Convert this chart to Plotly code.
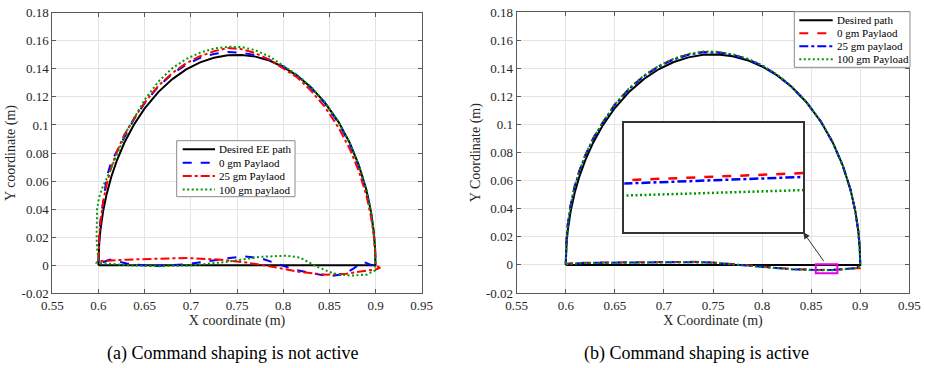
import plotly.graph_objects as go

W, H = 925, 368
FONT = "Liberation Serif"

# ---------------- tick values / labels ----------------
x_ticks = [0.55, 0.6, 0.65, 0.7, 0.75, 0.8, 0.85, 0.9, 0.95]
x_tick_text = ["0.55", "0.6", "0.65", "0.7", "0.75", "0.8", "0.85", "0.9", "0.95"]
y_ticks = [-0.02, 0, 0.02, 0.04, 0.06, 0.08, 0.1, 0.12, 0.14, 0.16, 0.18]
y_tick_text = ["-0.02", "0", "0.02", "0.04", "0.06", "0.08", "0.1", "0.12", "0.14", "0.16", "0.18"]

# ---------------- desired path (both panels) ----------------
desired_x = [0.6, 0.6003, 0.6008, 0.602, 0.605, 0.609, 0.614, 0.62, 0.628, 0.638, 0.65, 0.665,
             0.68, 0.695, 0.71, 0.725, 0.74, 0.755, 0.77, 0.785, 0.8, 0.815, 0.83, 0.845, 0.86,
             0.872, 0.882, 0.89, 0.895, 0.898, 0.8995, 0.9, 0.6]
desired_y = [0, 0.0095, 0.0155, 0.0244, 0.0384, 0.0512, 0.0633, 0.0748, 0.0873, 0.0998, 0.1118,
             0.1236, 0.1327, 0.1396, 0.1446, 0.1479, 0.1497, 0.1499, 0.1487, 0.1459, 0.1414,
             0.1352, 0.1269, 0.1161, 0.1020, 0.0873, 0.0712, 0.0539, 0.0384, 0.0244, 0.0122, 0, 0]

# ---------------- panel (a): command shaping not active ----------------
a_blue_x = [0.6, 0.6003, 0.6008, 0.602, 0.605, 0.609, 0.614, 0.62, 0.628, 0.638, 0.65, 0.665,
            0.68, 0.695, 0.71, 0.725, 0.74, 0.755, 0.77, 0.785, 0.8, 0.815, 0.83, 0.845, 0.86,
            0.872, 0.882, 0.89, 0.895, 0.898, 0.8995, 0.9,
            0.896, 0.8868, 0.876, 0.8652, 0.8508, 0.8327, 0.811, 0.793, 0.775, 0.7587, 0.7425,
            0.7135, 0.692, 0.6594, 0.6306, 0.6125, 0.6]
a_blue_y = [0.002, 0.011, 0.02, 0.031, 0.046, 0.063, 0.074, 0.081, 0.091, 0.1035, 0.1155, 0.1275,
            0.1365, 0.143, 0.1478, 0.1506, 0.152, 0.1515, 0.1497, 0.1465, 0.1418, 0.1352, 0.1265,
            0.1155, 0.1012, 0.0865, 0.0705, 0.0532, 0.038, 0.0242, 0.012, 0.001,
            0.0, 0.0025, -0.0024, -0.0065, -0.0078, -0.006, -0.0029, 0.0012, 0.0052, 0.0062,
            0.0052, 0.0024, 0.0005, -0.0007, 0.0012, 0.004, 0.001]

a_red_x = [0.6, 0.6003, 0.6008, 0.602, 0.605, 0.609, 0.614, 0.62, 0.628, 0.638, 0.65, 0.665,
           0.68, 0.695, 0.71, 0.725, 0.74, 0.755, 0.77, 0.785, 0.8, 0.815, 0.83, 0.845, 0.86,
           0.872, 0.882, 0.89, 0.895, 0.898, 0.8995, 0.9,
           0.905, 0.9, 0.8905, 0.8686, 0.847, 0.8182, 0.7893, 0.7605, 0.7316, 0.6955, 0.6306, 0.6]
a_red_y = [0.003, 0.013, 0.02, 0.03, 0.045, 0.058, 0.07, 0.081, 0.093, 0.104, 0.116, 0.128,
           0.137, 0.144, 0.149, 0.1525, 0.1548, 0.154, 0.1512, 0.1465, 0.1405, 0.134, 0.1245,
           0.113, 0.098, 0.083, 0.067, 0.05, 0.035, 0.022, 0.01, 0.0,
           -0.0018, -0.003, -0.0038, -0.006, -0.0068, -0.0048, -0.0012, 0.0019, 0.004, 0.0052,
           0.004, 0.0029]

a_green_x = [0.6, 0.5985, 0.598, 0.598, 0.5985, 0.6005, 0.604, 0.609, 0.615, 0.622, 0.63, 0.64,
             0.65, 0.665, 0.68, 0.695, 0.71, 0.725, 0.74, 0.755, 0.77, 0.785, 0.8, 0.815, 0.83,
             0.845, 0.86, 0.872, 0.882, 0.89, 0.895, 0.898, 0.8995, 0.9,
             0.8995, 0.8905, 0.8724, 0.8543, 0.8363, 0.8182, 0.8039, 0.775, 0.7389, 0.7027,
             0.6666, 0.6306, 0.598, 0.6]
a_green_y = [0.004, 0.012, 0.02, 0.03, 0.04, 0.048, 0.055, 0.062, 0.071, 0.082, 0.095, 0.107,
             0.118, 0.131, 0.1405, 0.147, 0.1515, 0.1545, 0.1557, 0.1555, 0.1532, 0.1488, 0.1425,
             0.1357, 0.1272, 0.1163, 0.1022, 0.0875, 0.0713, 0.054, 0.0385, 0.0245, 0.0122, 0.0,
             -0.0036, -0.0067, -0.0074, -0.0058, -0.001, 0.0055, 0.0068, 0.006, 0.0024, 0.0,
             -0.0007, 0.0, 0.0019, 0.004]

# ---------------- panel (b): command shaping active ----------------
b_arch_x = [0.6, 0.6003, 0.6008, 0.602, 0.605, 0.609, 0.614, 0.62, 0.628, 0.638, 0.65, 0.665,
            0.68, 0.695, 0.71, 0.725, 0.74, 0.755, 0.77, 0.785, 0.8, 0.815, 0.83, 0.845, 0.86,
            0.872, 0.882, 0.89, 0.895, 0.898, 0.8995, 0.9]
b_red_arch_y = [0.001, 0.012, 0.019, 0.029, 0.043, 0.056, 0.0675, 0.0785, 0.0905, 0.102, 0.1145,
                0.126, 0.135, 0.1418, 0.1468, 0.150, 0.1518, 0.1516, 0.1498, 0.1468, 0.142,
                0.1356, 0.1271, 0.1162, 0.1021, 0.0873, 0.0712, 0.0539, 0.0384, 0.0244, 0.0122, 0.0]
b_blue_arch_y = [0.001, 0.0115, 0.0185, 0.0285, 0.0425, 0.0555, 0.067, 0.078, 0.09, 0.1015, 0.114,
                 0.1256, 0.1346, 0.1414, 0.1464, 0.1497, 0.1515, 0.1513, 0.1495, 0.1465, 0.1418,
                 0.1354, 0.127, 0.1161, 0.102, 0.0872, 0.0711, 0.0538, 0.0383, 0.0243, 0.0121, 0.0]
b_green_arch_y = [0.001, 0.0118, 0.0188, 0.0288, 0.0428, 0.0558, 0.0673, 0.0784, 0.0904, 0.1019,
                  0.1145, 0.1262, 0.1352, 0.142, 0.147, 0.1503, 0.1521, 0.1519, 0.1501, 0.147,
                  0.1423, 0.1358, 0.1273, 0.1163, 0.1022, 0.0874, 0.0713, 0.054, 0.0385, 0.0245,
                  0.0122, 0.0]

b_red_base_x = [0.903, 0.895, 0.885, 0.873, 0.857, 0.845, 0.83, 0.815, 0.8, 0.785, 0.77, 0.75,
                0.73, 0.7, 0.67, 0.64, 0.62, 0.605, 0.6]
b_red_base_y = [-0.0024, -0.0024, -0.0029, -0.00342, -0.00355, -0.0034, -0.0029, -0.0021, -0.0013,
                -0.0003, 0.0008, 0.0018, 0.0022, 0.0021, 0.0019, 0.0018, 0.0016, 0.0012, 0.0008]
b_blue_base_x = [0.9, 0.895, 0.885, 0.873, 0.857, 0.845, 0.83, 0.815, 0.8, 0.785, 0.77, 0.75,
                 0.73, 0.7, 0.67, 0.64, 0.62, 0.605, 0.6]
b_blue_base_y = [-0.0008, -0.0022, -0.0028, -0.00349, -0.00361, -0.0035, -0.003, -0.0022, -0.0013,
                 -0.0003, 0.0008, 0.0016, 0.002, 0.002, 0.0018, 0.0016, 0.0014, 0.001, 0.0006]
b_green_base_x = [0.9, 0.895, 0.885, 0.873, 0.857, 0.845, 0.83, 0.815, 0.8, 0.785, 0.77, 0.75,
                  0.73, 0.7, 0.67, 0.64, 0.62, 0.605, 0.6]
b_green_base_y = [-0.001, -0.0024, -0.003, -0.00373, -0.00383, -0.0037, -0.0031, -0.0023, -0.0014,
                  -0.0004, 0.0007, 0.0015, 0.0019, 0.0019, 0.0017, 0.0015, 0.0013, 0.0009, 0.0005]

# zoomed region shown in the inset (data coords of panel b)
inset_x_range = [0.857, 0.873]
inset_y_range = [-0.0045, -0.0025]
mark_box_x = [0.8547, 0.8767]
mark_box_y = [-0.0059, 0.0005]
arrow_tail = [0.864, 0.0016]

legend_a = ["Desired EE path", "0 gm Paylaod", "25 gm Paylaod", "100 gm paylaod"]
legend_b = ["Desired path", "0 gm Paylaod", "25 gm paylaod", "100 gm Payload"]

BLACK, BLUE, RED, GREEN = "#000000", "#0000ff", "#ff0000", "#009900"
DOT = "2px,2.5px"

# ---------------- layout geometry (pixels) ----------------
def px_x(p):
    return p / W

def px_y(p):
    return 1 - p / H

L_DOM_X = [px_x(52.3), px_x(421.7)]
L_DOM_Y = [px_y(293.3), px_y(12.7)]
R_DOM_X = [px_x(516.7), px_x(909.3)]
R_DOM_Y = [px_y(293.0), px_y(12.3)]
I_DOM_X = [px_x(624.3), px_x(803.3)]
I_DOM_Y = [px_y(232.3), px_y(122.7)]

X_RANGE = [0.55, 0.95]
Y_RANGE = [-0.02, 0.18]

fig = go.Figure()

def add(x, y, color, dash, xa, ya, width=2.0):
    fig.add_trace(go.Scatter(x=x, y=y, mode="lines", xaxis=xa, yaxis=ya, showlegend=False,
                             hoverinfo="skip",
                             line=dict(color=color, dash=dash, width=width)))

# panel a
add(desired_x, desired_y, BLACK, "solid", "x", "y", 2.0)
add(a_blue_x, a_blue_y, BLUE, "dash", "x", "y")
add(a_red_x, a_red_y, RED, "dashdot", "x", "y")
add(a_green_x, a_green_y, GREEN, DOT, "x", "y")

# panel b
add(desired_x, desired_y, BLACK, "solid", "x2", "y2", 2.0)
add(b_arch_x + b_red_base_x, b_red_arch_y + b_red_base_y, RED, "dash", "x2", "y2")
add(b_arch_x + b_blue_base_x, b_blue_arch_y + b_blue_base_y, BLUE, "dashdot", "x2", "y2")
add(b_arch_x + b_green_base_x, b_green_arch_y + b_green_base_y, GREEN, DOT, "x2", "y2")

# inset (zoom of panel b)
add(b_red_base_x, b_red_base_y, RED, "dash", "x3", "y3", 2.5)
add(b_blue_base_x, b_blue_base_y, BLUE, "dashdot", "x3", "y3", 2.5)
add(b_green_base_x, b_green_base_y, GREEN, DOT, "x3", "y3", 2.5)

AX_LINE = "#5a5a5a"
TXT = "#262626"

def main_axis(domain, title, is_x):
    return dict(
        domain=domain, range=X_RANGE if is_x else Y_RANGE,
        tickmode="array",
        tickvals=x_ticks if is_x else y_ticks,
        ticktext=x_tick_text if is_x else y_tick_text,
        showgrid=True, gridcolor="#e4e4e4", gridwidth=1, zeroline=False,
        showline=True, linecolor=AX_LINE, linewidth=1, mirror="ticks",
        ticks="inside", ticklen=4, tickcolor=AX_LINE, automargin=False,
        tickfont=dict(family=FONT, size=13, color=TXT),
        title=dict(text=title, font=dict(family=FONT, size=14, color=TXT),
                   standoff=3 if is_x else 2),
    )

fig.update_layout(
    width=W, height=H, margin=dict(l=0, r=0, t=0, b=0, autoexpand=False),
    paper_bgcolor="white", plot_bgcolor="white", showlegend=False,
    xaxis=main_axis(L_DOM_X, "X coordinate (m)", True) | dict(anchor="y"),
    yaxis=main_axis(L_DOM_Y, "Y coordinate (m)", False) | dict(anchor="x"),
    xaxis2=main_axis(R_DOM_X, "X Coordinate (m)", True) | dict(anchor="y2"),
    yaxis2=main_axis(R_DOM_Y, "Y Coordinate (m)", False) | dict(anchor="x2"),
    xaxis3=dict(domain=I_DOM_X, range=inset_x_range, anchor="y3", showgrid=False,
                zeroline=False, showticklabels=False, ticks="", showline=True,
                linecolor="#333333", linewidth=1.5, mirror=True),
    yaxis3=dict(domain=I_DOM_Y, range=inset_y_range, anchor="x3", showgrid=False,
                zeroline=False, showticklabels=False, ticks="", showline=True,
                linecolor="#333333", linewidth=1.5, mirror=True),
)

# convert inset pixel box to panel-b data coordinates
def rb_x(frac):
    return X_RANGE[0] + (frac - R_DOM_X[0]) / (R_DOM_X[1] - R_DOM_X[0]) * (X_RANGE[1] - X_RANGE[0])

def rb_y(frac):
    return Y_RANGE[0] + (frac - R_DOM_Y[0]) / (R_DOM_Y[1] - R_DOM_Y[0]) * (Y_RANGE[1] - Y_RANGE[0])

ins_x0, ins_x1 = rb_x(I_DOM_X[0]), rb_x(I_DOM_X[1])
ins_y0, ins_y1 = rb_y(I_DOM_Y[0]), rb_y(I_DOM_Y[1])

shapes = [
    # white backing for inset (hides gridlines of panel b)
    dict(type="rect", xref="x2", yref="y2", x0=ins_x0, x1=ins_x1, y0=ins_y0, y1=ins_y1,
         fillcolor="white", line=dict(width=0), layer="between"),
    # magenta marker box
    dict(type="rect", xref="x2", yref="y2", x0=mark_box_x[0], x1=mark_box_x[1],
         y0=mark_box_y[0], y1=mark_box_y[1], line=dict(color="#e600e6", width=2),
         fillcolor="rgba(0,0,0,0)", layer="above"),
]

annotations = []

def manual_legend(box, rows, line_x, text_x, labels, styles):
    shapes.append(dict(type="rect", xref="paper", yref="paper",
                       x0=px_x(box[0]), x1=px_x(box[2]), y0=px_y(box[3]), y1=px_y(box[1]),
                       fillcolor="white", line=dict(color="#8a8a8a", width=1), layer="above"))
    for r, lab, (col, dash) in zip(rows, labels, styles):
        shapes.append(dict(type="line", xref="paper", yref="paper",
                           x0=px_x(line_x[0]), x1=px_x(line_x[1]), y0=px_y(r), y1=px_y(r),
                           line=dict(color=col, dash=dash, width=2), layer="above"))
        annotations.append(dict(text=lab, xref="paper", yref="paper", x=px_x(text_x),
                                y=px_y(r), xanchor="left", yanchor="middle", showarrow=False,
                                font=dict(family=FONT, size=11, color="black")))

manual_legend((176.7, 140.7, 295.0, 196.7), [149.3, 162.7, 176.0, 189.5], (182.7, 215.0), 216.5,
              legend_a, [(BLACK, "solid"), (BLUE, "dash"), (RED, "dashdot"), (GREEN, DOT)])
manual_legend((794.3, 11.7, 910.0, 67.3), [20.3, 33.3, 46.3, 59.3], (799.3, 832.7), 834.5,
              legend_b, [(BLACK, "solid"), (RED, "dash"), (BLUE, "dashdot"), (GREEN, DOT)])

# arrow from marker box to inset
annotations.append(dict(xref="x2", yref="y2", axref="x2", ayref="y2", x=ins_x1, y=ins_y0,
                        ax=arrow_tail[0], ay=arrow_tail[1], text="", showarrow=True,
                        arrowhead=2, arrowsize=1.3, arrowwidth=1, arrowcolor="#333333"))

# captions
annotations.append(dict(text="(a) Command shaping is not active", xref="paper", yref="paper",
                        x=px_x(232), y=px_y(353), xanchor="center", yanchor="middle",
                        showarrow=False, font=dict(family=FONT, size=18, color="black")))
annotations.append(dict(text="(b) Command shaping is active", xref="paper", yref="paper",
                        x=px_x(696), y=px_y(353), xanchor="center", yanchor="middle",
                        showarrow=False, font=dict(family=FONT, size=18, color="black")))

fig.update_layout(shapes=shapes, annotations=annotations)
fig.write_html("out.html")
